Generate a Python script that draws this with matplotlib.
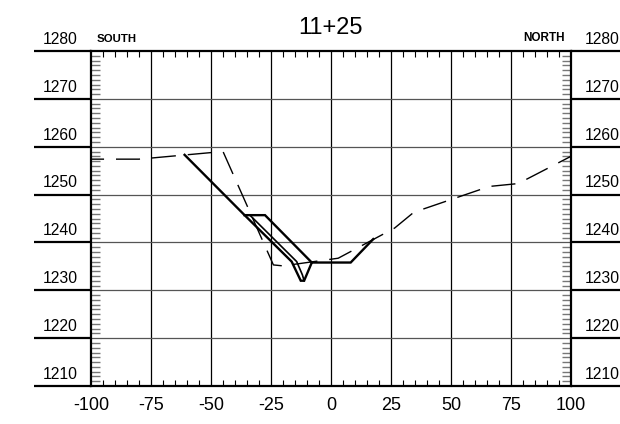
import matplotlib
matplotlib.use("Agg")
import matplotlib.pyplot as plt
import matplotlib.transforms as mtransforms
import numpy as np

plt.rcParams['font.family'] = ['Liberation Sans', 'DejaVu Sans']

# Section 11+25 : existing ground (dashed) and design template (solid)
station = "11+25"
offset_ticks = [-100, -75, -50, -25, 0, 25, 50, 75, 100]
elev_ticks = [1210, 1220, 1230, 1240, 1250, 1260, 1270, 1280]

ground_x = [-100, -80, -45, -24, -20, 3, 26.5, 34.5, 66, 78, 100]
ground_y = [1257.4, 1257.4, 1259.0, 1235.3, 1235.1, 1236.7, 1243.0, 1246.3, 1251.7, 1252.3, 1258.0]

design_x = [-61, -36, -16.4, -12.6, -11.2, -8, 8.2, 17.6]
design_y = [1258.3, 1245.7, 1236.0, 1232.0, 1232.0, 1235.8, 1235.8, 1240.7]

bench_x = [-36, -27.5, -8]
bench_y = [1245.7, 1245.7, 1235.8]

inner_x = [-33.8, -14.3, -11.9, -11.2]
inner_y = [1245.7, 1236.0, 1233.2, 1232.0]

fig = plt.figure(figsize=(6.2, 4.24), dpi=100)
ax = fig.add_axes([91 / 620, 1 - 386 / 424, 480 / 620, 335 / 424])

ax.set_xlim(offset_ticks[0], offset_ticks[-1])
ax.set_ylim(elev_ticks[0], elev_ticks[-1])

# grid
for x in offset_ticks[1:-1]:
    ax.axvline(x, color='black', lw=0.9, zorder=1)
for y in elev_ticks[1:-1]:
    ax.axhline(y, color='#555555', lw=0.9, zorder=1)

# profiles
ax.plot(ground_x, ground_y, color='black', lw=1.0,
        linestyle=(7.9, (17.3, 8.6)), zorder=3)
ax.plot(design_x, design_y, color='black', lw=1.7, zorder=4,
        solid_joinstyle='miter')
ax.plot(bench_x, bench_y, color='black', lw=1.7, zorder=4,
        solid_joinstyle='miter')
ax.plot(inner_x, inner_y, color='black', lw=1.2, zorder=4)

# ticks
ax.set_xticks(offset_ticks)
ax.set_xticklabels([str(v) for v in offset_ticks], fontsize=13)
ax.set_xticks([v for v in range(-95, 100, 5) if v % 25 != 0], minor=True)
ax.set_yticks(elev_ticks)
ax.set_yticklabels([])
ax.set_yticks([v for v in range(1211, 1280) if v % 10 != 0], minor=True)

ax.tick_params(axis='x', which='major', length=0, pad=8)
ax.tick_params(axis='x', which='minor', direction='in', length=4.3,
               width=0.8, color='black', top=True, bottom=True)
ax.tick_params(axis='y', which='major', length=0)
ax.tick_params(axis='y', which='minor', direction='in', length=6.5,
               width=1.0, color='#777777', left=True, right=True)

for s in ax.spines.values():
    s.set_linewidth(1.6)
    s.set_color('black')

# elevation reference bars and labels outside the frame
trans = mtransforms.blended_transform_factory(ax.transAxes, ax.transData)
for y in elev_ticks:
    ax.plot([-0.119, 0], [y, y], transform=trans, color='black', lw=1.6,
            clip_on=False, solid_capstyle='butt')
    ax.plot([1, 1.11], [y, y], transform=trans, color='black', lw=1.6,
            clip_on=False, solid_capstyle='butt')
    ax.annotate(str(y), xy=(-0.027, y), xycoords=trans, xytext=(0, 3),
                textcoords='offset points', ha='right', va='bottom',
                fontsize=11.3)
    ax.annotate(str(y), xy=(1.029, y), xycoords=trans, xytext=(0, 3),
                textcoords='offset points', ha='left', va='bottom',
                fontsize=11.3)

ax.text(0.5, 1.035, station, transform=ax.transAxes, ha='center',
        va='bottom', fontsize=17)
ax.text(0.012, 1.022, "SOUTH", transform=ax.transAxes, ha='left',
        va='bottom', fontsize=8.2, fontweight='bold')
ax.text(0.988, 1.022, "NORTH", transform=ax.transAxes, ha='right',
        va='bottom', fontsize=8.5, fontweight='bold')

fig.savefig("out.png", dpi=100)
